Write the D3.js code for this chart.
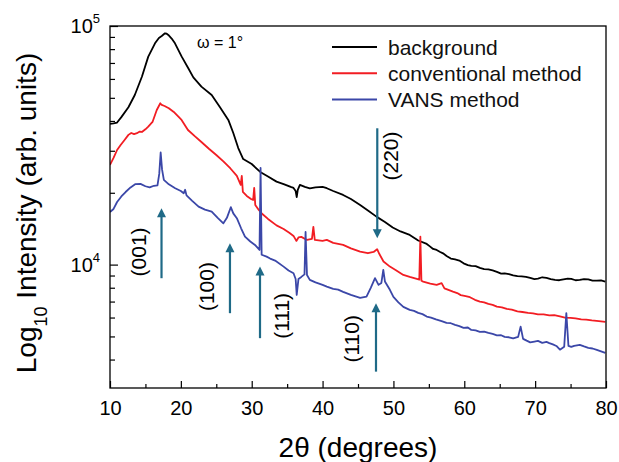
<!DOCTYPE html>
<html>
<head>
<meta charset="utf-8">
<script src="https://cdn.jsdelivr.net/npm/d3@7"></script>
<style>
  html, body { margin: 0; padding: 0; background: #fff; }
  svg { display: block; font-family: "Liberation Sans", Arial, sans-serif; }
</style>
</head>
<body>
<svg id="chart" width="619" height="462"></svg>
<script>
// ---------- DATA (2θ in degrees, intensity in arb. units) ----------
const xTicks = [10, 20, 30, 40, 50, 60, 70, 80];
const xMinorTicks = [15, 25, 35, 45, 55, 65, 75];
const yTicks = [1e4, 1e5];
const yMinorTicks = [4000, 5000, 6000, 7000, 8000, 9000, 20000, 30000, 40000, 50000, 60000, 70000, 80000, 90000];

const seriesNames = ["background", "conventional method", "VANS method"];

const background = [
  [10,38850],[10.5,39050],[11,39400],[11.6,41500],[12.6,45650],[13.5,51400],[14.5,61300],[15.4,74400],
  [16.35,84600],[16.9,89100],[17.3,90800],[17.76,93200],[18.0,92800],[18.23,91700],[18.7,88600],
  [19.17,84600],[20.12,74400],[21.05,66500],[21.76,60900],[22.9,55700],[24.35,51400],[25.5,45800],
  [26.7,40400],[27.4,35600],[28.1,30800],[28.8,27700],[30.0,26400],[31.2,24450],[32.3,23400],
  [33.5,22270],[34.6,21700],[35.5,21160],[35.9,20960],[36.2,20350],[36.35,19200],[36.5,20560],
  [36.8,21580],[37.5,21160],[38.2,20860],[39.0,21060],[40.0,21160],[40.6,20900],[41.5,20350],
  [42.9,19590],[44.0,18840],[45.3,17790],[46.5,16790],[47.6,15890],[48.8,15100],[49.9,14310],
  [51.0,13770],[52.3,13320],[53.5,12620],[54.7,12210],[55.1,11950],[55.6,11630],[56.1,11520],
  [56.6,11300],[57.0,11150],[57.5,10870],[58.1,10600],[58.7,10510],[59.3,10400],[59.9,10120],
  [60.5,9950],[61.0,9876],[61.6,9850],[62.2,9687],[62.8,9580],[63.4,9548],[64.0,9450],[64.6,9320],
  [65.2,9170],[65.7,9186],[66.3,9120],[66.9,9013],[67.5,8940],[68.1,8926],[68.7,8880],[69.3,8797],
  [69.9,8700],[70.4,8730],[71.0,8850],[71.6,8797],[72.2,8700],[72.8,8630],[73.4,8600],[74.0,8670],
  [74.6,8740],[75.1,8710],[75.7,8600],[76.3,8630],[76.9,8700],[77.5,8670],[78.1,8560],[78.7,8570],
  [79.3,8580],[79.9,8490]
];

const conventional = [
  [10,26170],[10.5,27990],[11,30220],[11.5,31730],[12,33140],[12.6,34970],[13,35620],[13.4,35200],
  [13.8,35540],[14.2,36100],[14.5,35960],[15,36900],[15.4,37860],[16,39610],[16.6,44470],[17.1,47440],
  [17.3,46670],[17.7,46220],[18.3,45210],[19,43620],[20.1,40390],[21,36660],[22,34450],[22.9,32660],
  [24,30510],[25,28800],[26,27060],[27,25290],[27.9,23530],[28.45,21600],[28.6,23530],[28.75,20160],
  [29.3,19400],[29.9,18840],[30.2,18660],[30.35,20960],[30.5,17790],[31,16950],[31.5,16300],
  [32.3,15540],[33.5,14600],[34.5,14100],[35.3,13600],[35.9,13190],[36.3,12570],[36.6,13000],
  [37,13070],[37.8,12690],[38.5,12820],[38.7,14390],[38.9,12690],[40,12570],[40.6,12690],[41.5,12330],
  [42.9,12090],[44,11700],[45.3,11340],[46.4,11160],[47.2,11300],[47.7,11600],[48.0,11100],
  [48.6,10300],[49.5,9810],[50.3,9500],[51.4,9050],[52.3,8880],[53.3,8710],[53.65,8650],[53.8,13100],
  [53.95,8560],[54.2,8490],[55.2,8330],[56.1,8224],[56.8,8360],[57.2,7950],[58.4,7706],[59.0,7600],
  [59.5,7450],[60.2,7380],[60.8,7300],[61.5,7120],[62.2,7000],[62.8,6950],[63.4,6845],[64.0,6780],
  [64.6,6670],[65.3,6620],[66,6523],[66.7,6480],[67.5,6368],[68.2,6330],[69,6276],[69.7,6250],
  [70.4,6186],[71.2,6190],[72,6127],[72.7,6140],[73.5,6067],[74.2,6000],[75,5980],[75.7,5950],
  [76.5,5894],[77.2,5880],[78,5837],[79.0,5800],[79.9,5753]
];

const vans = [
  [10,16620],[10.5,17110],[11,18300],[11.6,19300],[12.2,20150],[12.9,21060],[13.6,21760],[14.3,21800],
  [15,21300],[15.6,21060],[16.2,21400],[16.7,21500],[16.95,24000],[17.15,29500],[17.35,25000],
  [17.6,22640],[18.3,21700],[19.2,20900],[20.0,20350],[20.4,19900],[20.6,20600],[20.8,19500],
  [21.6,18500],[22.5,17500],[23.4,17000],[24.35,16670],[25.2,15700],[26.0,14900],[26.5,15700],
  [27.05,17400],[27.4,16400],[27.9,15650],[28.5,14200],[29.05,13100],[29.8,12500],[30.46,12090],
  [31.1,11520],[31.25,25400],[31.4,11000],[32.1,10800],[32.6,10600],[33.3,10400],[34.5,9808],
  [35.2,9450],[35.9,9205],[36.2,8700],[36.35,7464],[36.6,8710],[37.0,8880],[37.45,9100],[37.6,13700],
  [37.8,9050],[38.2,8630],[39.0,8420],[40.0,8224],[40.6,8090],[41.5,7910],[42.2,7850],[42.9,7690],
  [44.0,7464],[45.3,7250],[46.2,7343],[46.8,7990],[47.4,8771],[47.9,8224],[48.3,8380],[48.57,9502],
  [48.8,8500],[49.5,7840],[50.0,7322],[50.7,6950],[51.4,6650],[52.3,6460],[52.9,6400],[53.5,6276],
  [54.1,6200],[54.7,6056],[55.3,6000],[56.0,5894],[56.8,5800],[57.5,5698],[58.1,5680],[58.7,5589],
  [59.3,5520],[59.9,5429],[60.5,5450],[61.0,5325],[61.6,5300],[62.2,5224],[62.8,5240],[63.4,5175],
  [64.0,5120],[64.6,5052],[65.2,5060],[65.7,4980],[66.3,4960],[66.9,4908],[67.6,4980],[67.95,5497],
  [68.3,4885],[68.8,4800],[69.3,4721],[69.9,4760],[70.4,4789],[71.0,4700],[71.6,4743],[72.0,4690],
  [72.5,4631],[73.0,4560],[73.5,4400],[74.1,4528],[74.4,6258],[74.7,4566],[75.1,4520],[75.5,4566],
  [76.3,4610],[76.9,4540],[77.5,4477],[78.1,4450],[78.7,4393],[79.3,4330],[79.9,4266]
];

// peak assignments: label, 2θ, arrow tail / tip intensities, label position (2θ, intensity)
const peaks = [
  { label: "(001)", angle: 17.27, tail: 8770, tip: 17230, lx: 13.95, ly: 11300 },
  { label: "(100)", angle: 26.93, tail: 6258, tip: 12300, lx: 23.65, ly: 8090 },
  { label: "(111)", angle: 31.17, tail: 4917, tip: 9808,  lx: 34.23, ly: 6098 },
  { label: "(220)", angle: 47.72, tail: 37270, tip: 12900, lx: 49.61, ly: 28520 },
  { label: "(110)", angle: 47.54, tail: 3560, tip: 6890,  lx: 44.11, ly: 4885 }
];

const annotationText = "\u03c9 = 1\u00b0";

// ---------- LAYOUT ----------
const W = 619, H = 462;
const plot = { left: 110, right: 606, top: 26, bottom: 388 };
const colors = ["#000000", "#f21d23", "#3b47a8"];
const arrowColor = "#1f6a87";

const svg = d3.select("#chart");

const x = d3.scaleLinear().domain([10, 80]).range([plot.left, plot.right]);
const y = d3.scaleLog().domain([3040, 100000]).range([plot.bottom, plot.top]);

svg.append("defs").append("clipPath").attr("id", "clip")
  .append("rect").attr("x", plot.left).attr("y", plot.top)
  .attr("width", plot.right - plot.left).attr("height", plot.bottom - plot.top);

// ---------- AXES ----------
const xAxis = svg.append("g").attr("transform", `translate(0,${plot.bottom})`)
  .call(d3.axisBottom(x).tickValues(xTicks).tickSize(-7).tickPadding(13).tickFormat(d3.format("d")));
const xMinor = svg.append("g").attr("transform", `translate(0,${plot.bottom})`)
  .call(d3.axisBottom(x).tickValues(xMinorTicks).tickSize(-4).tickFormat(""));

const yAxis = svg.append("g").attr("transform", `translate(${plot.left},0)`)
  .call(d3.axisLeft(y).tickValues(yTicks).tickSize(-8).tickPadding(10).tickFormat(() => ""));
const yMinor = svg.append("g").attr("transform", `translate(${plot.left},0)`)
  .call(d3.axisLeft(y).tickValues(yMinorTicks).tickSize(-5).tickFormat(""));

[xAxis, xMinor, yAxis, yMinor].forEach(g => {
  g.select(".domain").remove();
  g.selectAll(".tick line").attr("stroke", "#000").attr("stroke-width", 1.2);
});
xAxis.selectAll(".tick text").attr("font-size", 20).attr("fill", "#000")
  .attr("font-family", "Liberation Sans, Arial, sans-serif");

yAxis.selectAll(".tick text").each(function(d) {
  const t = d3.select(this).text(null)
    .attr("font-size", 20).attr("fill", "#000").attr("font-family", "Liberation Sans, Arial, sans-serif");
  t.append("tspan").text("10");
  t.append("tspan").attr("font-size", 13).attr("dy", -10).text(Math.round(Math.log10(d)));
});

// ---------- LINES ----------
const line = d3.line().x(d => x(d[0])).y(d => y(d[1]));
const gLines = svg.append("g").attr("clip-path", "url(#clip)");
[background, conventional, vans].forEach((s, i) => {
  gLines.append("path").datum(s)
    .attr("fill", "none").attr("stroke", colors[i]).attr("stroke-width", 1.8)
    .attr("stroke-linejoin", "round").attr("d", line);
});

// frame
svg.append("rect").attr("x", plot.left).attr("y", plot.top)
  .attr("width", plot.right - plot.left).attr("height", plot.bottom - plot.top)
  .attr("fill", "none").attr("stroke", "#000").attr("stroke-width", 1.3);

// ---------- ARROWS ----------
const gArr = svg.append("g");
peaks.forEach(p => {
  const px = x(p.angle), y0 = y(p.tail), y1 = y(p.tip);
  const dir = y1 < y0 ? -1 : 1;
  const headL = 9, headW = 4.5;
  gArr.append("line").attr("x1", px).attr("x2", px)
    .attr("y1", y0).attr("y2", y1 - dir * headL + dir * 1)
    .attr("stroke", arrowColor).attr("stroke-width", 2.2);
  gArr.append("path")
    .attr("d", `M${px},${y1} L${px - headW},${y1 - dir * headL} L${px + headW},${y1 - dir * headL} Z`)
    .attr("fill", arrowColor);
  gArr.append("text")
    .attr("transform", `translate(${x(p.lx)},${y(p.ly)}) rotate(-90)`)
    .attr("text-anchor", "middle").attr("dy", "0.36em")
    .attr("font-size", 21).attr("fill", "#000").text(p.label);
});

// ---------- ANNOTATION ----------
svg.append("text").attr("x", 197).attr("y", 48).attr("font-size", 16).attr("fill", "#000")
  .text(annotationText);

// ---------- LEGEND ----------
const legend = svg.append("g");
seriesNames.forEach((name, i) => {
  const ly = 47 + i * 26.3;
  legend.append("line").attr("x1", 332).attr("x2", 377).attr("y1", ly).attr("y2", ly)
    .attr("stroke", colors[i]).attr("stroke-width", 2);
  legend.append("text").attr("x", 388).attr("y", ly + 7.5).attr("font-size", 21)
    .attr("fill", "#111").text(name);
});

// ---------- AXIS TITLES ----------
svg.append("text").attr("x", (plot.left + plot.right) / 2).attr("y", 457)
  .attr("text-anchor", "middle").attr("font-size", 28).attr("fill", "#000")
  .text("2\u03b8 (degrees)");

const yt = svg.append("text")
  .attr("transform", `translate(36,213) rotate(-90)`)
  .attr("text-anchor", "middle").attr("font-size", 28).attr("fill", "#000");
yt.append("tspan").text("Log");
yt.append("tspan").attr("font-size", 18).attr("dy", 11).text("10");
yt.append("tspan").attr("dy", -11).text(" Intensity (arb. units)");
</script>
</body>
</html>
